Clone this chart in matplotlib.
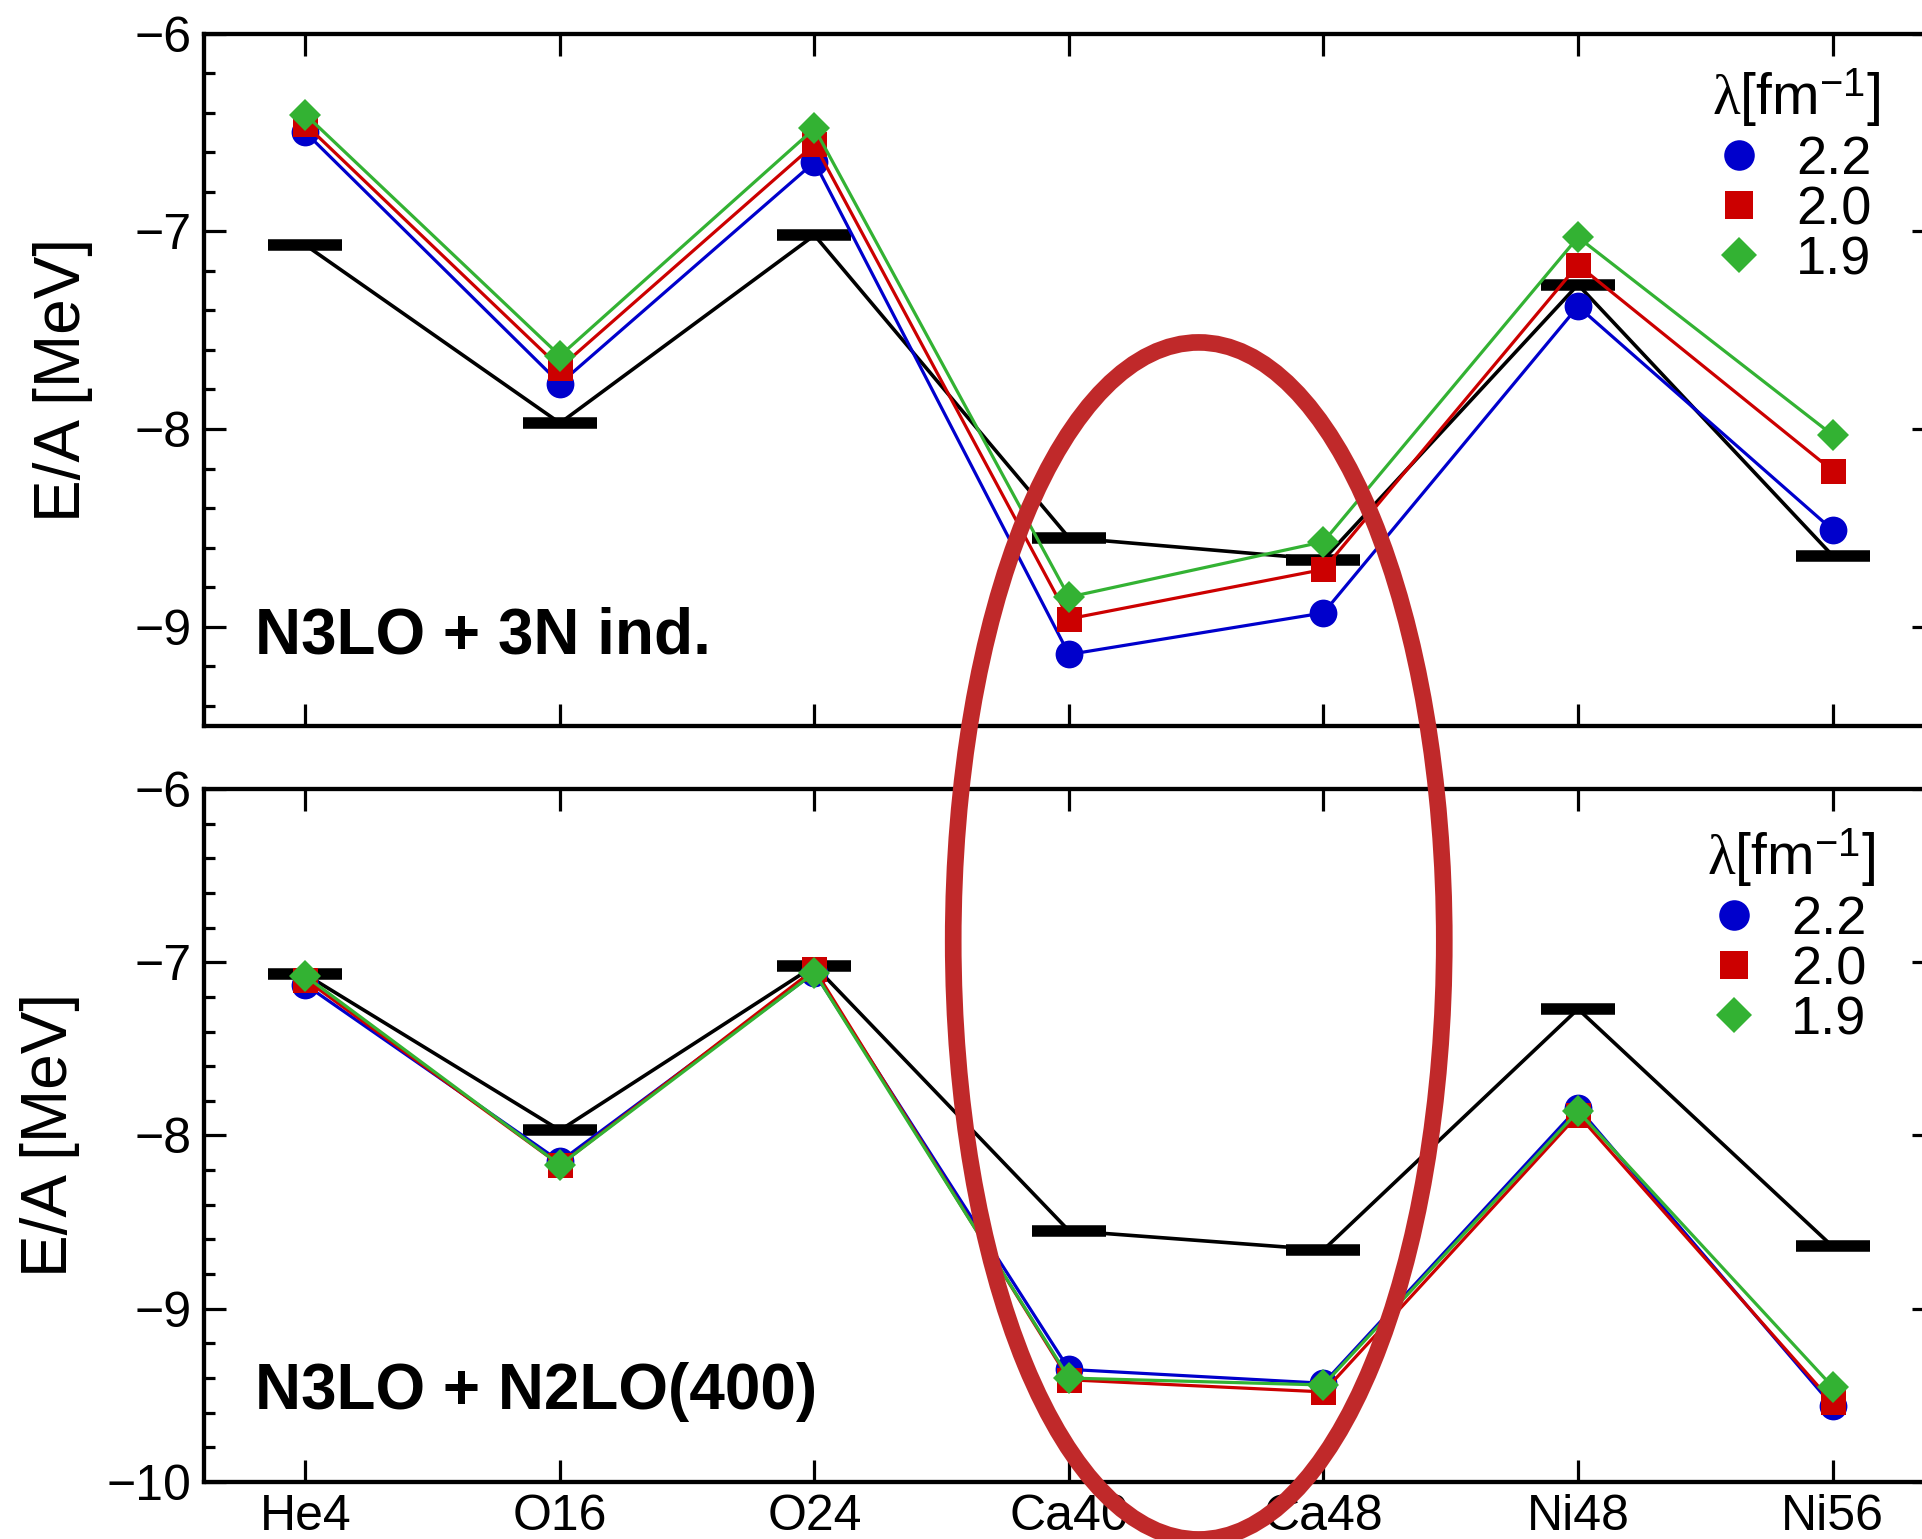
import matplotlib
matplotlib.use('Agg')
import matplotlib.pyplot as plt
from matplotlib.patches import Ellipse
from matplotlib.lines import Line2D
from matplotlib.ticker import MultipleLocator

plt.rcParams['font.family'] = ['Liberation Sans', 'DejaVu Sans']
plt.rcParams['mathtext.fontset'] = 'custom'
plt.rcParams['mathtext.rm'] = 'Liberation Sans'
plt.rcParams['mathtext.it'] = 'Liberation Serif'
plt.rcParams['mathtext.bf'] = 'Liberation Sans:bold'

# ---------------- data ----------------
nuclei = ['He4', 'O16', 'O24', 'Ca40', 'Ca48', 'Ni48', 'Ni56']
lambda_labels = ['2.2', '2.0', '1.9']

exp_ea = [-7.07, -7.97, -7.02, -8.55, -8.66, -7.27, -8.64]

# top panel: N3LO + 3N induced
top_l22 = [-6.50, -7.77, -6.65, -9.14, -8.93, -7.38, -8.51]
top_l20 = [-6.46, -7.69, -6.56, -8.96, -8.71, -7.17, -8.21]
top_l19 = [-6.41, -7.63, -6.48, -8.85, -8.57, -7.03, -8.03]

# bottom panel: N3LO + N2LO(400)
bot_l22 = [-7.13, -8.15, -7.06, -9.35, -9.43, -7.84, -9.56]
bot_l20 = [-7.10, -8.17, -7.04, -9.41, -9.48, -7.88, -9.54]
bot_l19 = [-7.08, -8.17, -7.06, -9.40, -9.44, -7.86, -9.45]

panel_titles = ['N3LO + 3N ind.', 'N3LO + N2LO(400)']

# ---------------- style ----------------
colors = ['#0000CC', '#CC0000', '#33B233']
markers = ['o', 's', 'D']
msizes = [20, 18, 16.3]

fig = plt.figure(figsize=(19.22, 15.39), dpi=100)
ax_top = fig.add_axes([0.10598, 0.52852, 0.90042, 0.44970])
ax_bot = fig.add_axes([0.10598, 0.03704, 0.90042, 0.45029])

x = list(range(len(nuclei)))


def style(ax, ymin, ymax, show_x):
    ax.set_xlim(-0.4, 6.4)
    ax.set_ylim(ymin, ymax)
    ax.set_xticks(x)
    ax.set_xticklabels(nuclei if show_x else [])
    ax.yaxis.set_major_locator(MultipleLocator(1))
    ax.yaxis.set_minor_locator(MultipleLocator(0.2))
    ax.tick_params(which='both', direction='in', top=True, right=True,
                   width=2.3, labelsize=36, pad=9)
    ax.tick_params(which='major', length=16)
    ax.tick_params(which='minor', length=8)
    ax.tick_params(axis='x', which='minor', bottom=False, top=False)
    for s in ax.spines.values():
        s.set_linewidth(3.1)


def draw(ax, series, title, ty, lab_x, leg_anchor):
    ax.plot(x, exp_ea, color='black', lw=2.6, marker='_', ms=53, mew=8.3,
            zorder=2)
    for vals, c, m, ms in zip(series, colors, markers, msizes):
        ax.plot(x, vals, color=c, lw=2.3, marker=m, ms=ms, mfc=c, mec=c,
                mew=0, zorder=3)
    handles = [Line2D([], [], linestyle='none', marker=m, ms=ms, color=c,
                      mew=0) for c, m, ms in zip(colors, markers, msizes)]
    leg = ax.legend(handles=handles, labels=lambda_labels,
                    title=r'$\lambda$[fm$^{-1}$]', loc='upper left',
                    bbox_to_anchor=leg_anchor, frameon=False, fontsize=39,
                    title_fontsize=41, handlelength=1.0, handletextpad=0.55,
                    labelspacing=0.0, borderpad=0, borderaxespad=0,
                    markerscale=1.1, numpoints=1, alignment='left')
    leg._legend_box.sep = 4.5
    ax.text(-0.2, ty, title, fontsize=46, fontweight='bold',
            ha='left', va='baseline')
    ax.set_ylabel('E/A [MeV]', fontsize=46)
    ax.yaxis.set_label_coords(lab_x, 0.5)


style(ax_top, -9.5, -6, False)
style(ax_bot, -10, -6, True)
draw(ax_top, [top_l22, top_l20, top_l19], panel_titles[0], -9.134, -0.0639,
     (0.8716, 0.952))
draw(ax_bot, [bot_l22, bot_l20, bot_l19], panel_titles[1], -9.579, -0.0714,
     (0.8687, 0.9456))

fig.add_artist(Ellipse((0.6237, 0.3886), 0.2555, 0.7778,
                       transform=fig.transFigure, fill=False,
                       ec='#C0292A', lw=12, zorder=10))

fig.savefig('out.png', dpi=100)
